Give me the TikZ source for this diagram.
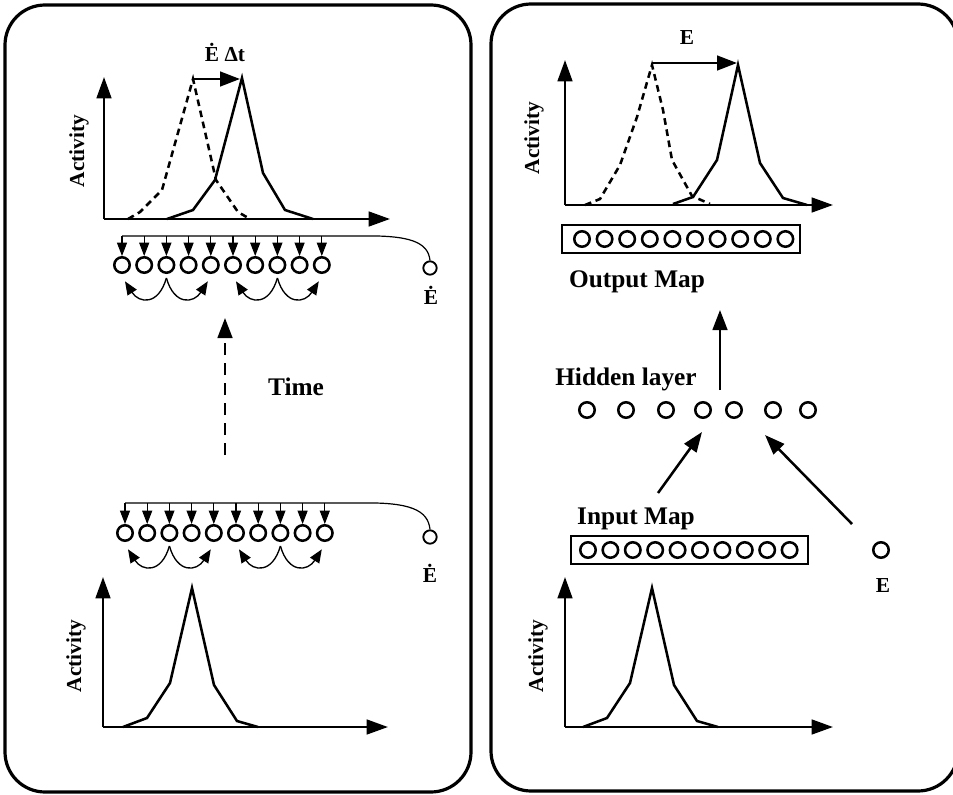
\documentclass[tikz,border=0pt]{standalone}
\usepackage{fontspec}
\setmainfont{Liberation Serif}
\usetikzlibrary{arrows.meta}
\begin{document}
\begin{tikzpicture}[x=0.75pt,y=-0.75pt,
  panel/.style={line width=2.4pt, rounded corners=30pt},
  axis/.style={line width=1.9pt, -{Triangle[length=16pt,width=11pt]}},
  curve/.style={line width=1.9pt, line join=miter},
  dcurve/.style={curve, dash pattern=on 5pt off 3.5pt},
  neuron/.style={circle, draw, line width=1.9pt, minimum size=11.6pt, inner sep=0pt},
  feed/.style={line width=0.8pt, -{Triangle[length=10pt,width=7.5pt]}},
  lateral/.style={line width=1pt, -{Triangle[length=10pt,width=8pt]}},
  bigarrow/.style={line width=1.9pt, -{Triangle[length=15pt,width=11pt]}},
  timearrow/.style={bigarrow, dash pattern=on 9pt off 6pt},
  lbl/.style={font=\bfseries\fontsize{19}{21}\selectfont, anchor=base},
  ylbl/.style={font=\bfseries\fontsize{16}{18}\selectfont, rotate=90},
  sym/.style={font=\bfseries\fontsize{16}{18}\selectfont, anchor=base},
  mapbox/.style={draw, line width=1.6pt}]

\useasboundingbox (0,0) rectangle (953,795);
\clip (0,0) rectangle (953,795);

% ---------- panels ----------
\draw[panel] (5,5) rectangle (471,792);
\draw[panel] (491,4) rectangle (958,791);

% ======================= LEFT PANEL =======================
% upper activity plot
\coordinate (lo) at (104,219);
\draw[axis] (lo) -- (104,77);
\draw[axis] (lo) -- (390,219);
\node[ylbl] (lact1) at (79,151) {Activity};
\draw[dcurve] (128,219) -- (140,212) -- (162,190) -- (193,79) -- (216,180) -- (238,212) -- (250,219);
\draw[curve] (167,219) -- (193,210) -- (215,180) -- (242,78) -- (263,173) -- (285,210) -- (313,219);
\coordinate (sa) at (193,79);
\coordinate (sb) at (240,79);
\draw[bigarrow] (sa) -- (sb);
\node[sym] (shift) at (225,62) {\.E Δt};

% upper neuron row
\foreach \i in {1,...,10}
  \node[neuron] (a\i) at ({122+22.2*(\i-1)},265) {};
\node[neuron, line width=1.4pt, minimum size=10pt] (etop) at (430,268) {};
\node[sym] (etoplbl) at (431,304) {\.E};
\coordinate (la) at (122,236);
\draw[line width=0.9pt] (la) -- (360,236) .. controls (410,235) and (428,242) .. (etop.north);
\foreach \i in {1,...,10}
  \draw[feed] (a\i.north |- la) -- (a\i.north);
% lateral connections: centre unit to the units two places away
\foreach \c/\l/\r in {3/1/5, 8/6/10} {
  \draw[lateral] ([yshift=-3pt]a\c.south) .. controls +(-8,28) and +(14,22) .. ([xshift=2.25pt,yshift=-5.5pt]a\l.south);
  \draw[lateral] ([yshift=-3pt]a\c.south) .. controls +(8,28) and +(-14,22) .. ([xshift=-2.25pt,yshift=-5.5pt]a\r.south);
}

% time arrow
\coordinate (t0) at (225,455);
\coordinate (t1) at (225,318);
\draw[timearrow] (t0) -- (t1);
\node[lbl] (time) at (296,395) {Time};

% lower neuron row
\foreach \i in {1,...,10}
  \node[neuron] (b\i) at ({125+22.2*(\i-1)},533) {};
\node[neuron, line width=1.4pt, minimum size=10pt] (ebot) at (430,537) {};
\node[sym] (ebotlbl) at (430,582) {\.E};
\coordinate (lb) at (125,503);
\draw[line width=0.9pt] (lb) -- (360,503) .. controls (410,502) and (428,510) .. (ebot.north);
\foreach \i in {1,...,10}
  \draw[feed] (b\i.north |- lb) -- (b\i.north);
\foreach \c/\l/\r in {3/1/5, 8/6/10} {
  \draw[lateral] ([yshift=-3pt]b\c.south) .. controls +(-8,28) and +(14,22) .. ([xshift=2.25pt,yshift=-5.5pt]b\l.south);
  \draw[lateral] ([yshift=-3pt]b\c.south) .. controls +(8,28) and +(-14,22) .. ([xshift=-2.25pt,yshift=-5.5pt]b\r.south);
}

% lower activity plot
\coordinate (lo2) at (103,727);
\draw[axis] (lo2) -- (103,577);
\draw[axis] (lo2) -- (388,727);
\node[ylbl] (lact2) at (76,656) {Activity};
\draw[curve] (123,727) -- (147,718) -- (170,683) -- (192,588) -- (214,685) -- (237,721) -- (258,727);

% ======================= RIGHT PANEL =======================
% output activity plot
\coordinate (ro) at (565,205);
\draw[axis] (ro) -- (565,60);
\draw[axis] (ro) -- (833,205);
\node[ylbl] (ract1) at (534,138) {Activity};
\draw[dcurve] (585,205) -- (600,199) -- (620,165) -- (637,117) -- (652,65) -- (663,110) -- (672,160) -- (692,196) -- (710,204);
\draw[curve] (673,204) -- (693,197) -- (717,160) -- (738,65) -- (760,163) -- (783,198) -- (807,205);
\coordinate (ra) at (652,63);
\coordinate (rb) at (737,63);
\draw[bigarrow] (ra) -- (rb);
\node[sym] (elbl) at (687,45) {E};

% output map
\draw[mapbox] (562,225) rectangle (800,253);
\foreach \i in {1,...,10}
  \node[neuron] (o\i) at ({582+22.6*(\i-1)},239) {};
\node[lbl] (outlbl) at (637,287) {Output Map};

% hidden layer
\coordinate (hup0) at (720,390);
\coordinate (hup1) at (720,310);
\draw[bigarrow] (hup0) -- (hup1);
\node[lbl] (hidlbl) at (626,385) {Hidden layer};
\foreach \x [count=\i] in {587,626,666,703,734,773,808}
  \node[neuron] (h\i) at (\x,410) {};

% input map and E unit
\coordinate (ia0) at (658,493);
\coordinate (ia1) at (702,432);
\draw[bigarrow] (ia0) -- (ia1);
\coordinate (ea0) at (852,524);
\coordinate (ea1) at (765,435);
\draw[bigarrow] (ea0) -- (ea1);
\node[lbl] (inlbl) at (636,524) {Input Map};
\draw[mapbox] (571,536) rectangle (808,564);
\foreach \i in {1,...,10}
  \node[neuron] (i\i) at ({588+22.4*(\i-1)},550) {};
\node[neuron] (e) at (881,550) {};
\node[sym] (elbl2) at (883,592) {E};

% input activity plot
\coordinate (ro2) at (565,727);
\draw[axis] (ro2) -- (565,577);
\draw[axis] (ro2) -- (833,727);
\node[ylbl] (ract2) at (538,656) {Activity};
\draw[curve] (583,727) -- (607,718) -- (630,683) -- (652,588) -- (674,685) -- (697,721) -- (718,727);
\end{tikzpicture}
\end{document}
